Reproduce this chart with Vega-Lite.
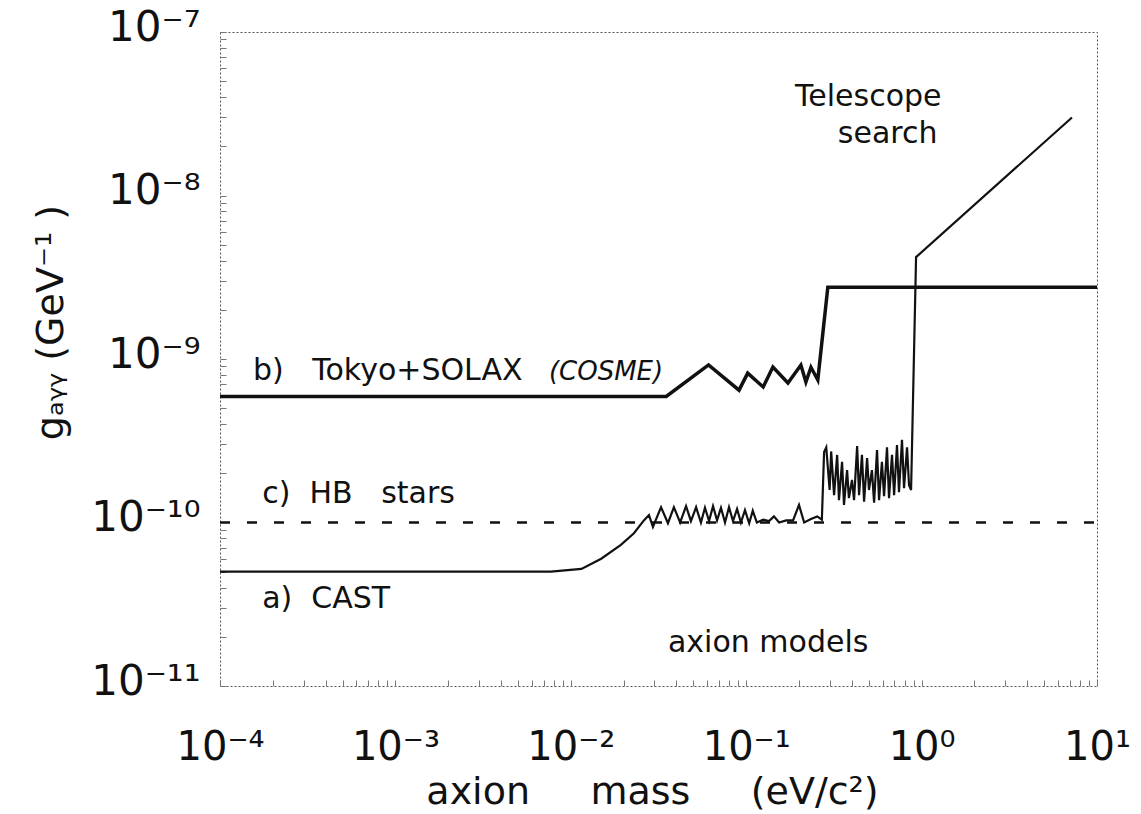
{
  "$schema": "https://vega.github.io/schema/vega-lite/v6.json",
  "width": 877,
  "height": 654,
  "autosize": {"type": "none"},
  "padding": {"left": 220, "top": 32, "right": 44, "bottom": 128},
  "background": "white",
  "config": {
    "font": "DejaVu Sans",
    "view": {"stroke": "#555", "strokeDash": [2, 2], "strokeWidth": 1}
  },
  "datasets": {
    "curves": [
      {"s": "HB", "m": 0.0001, "g": 1e-10},
      {"s": "HB", "m": 10, "g": 1e-10},
      {"s": "Tokyo", "m": 0.0001, "g": 5.9e-10},
      {"s": "Tokyo", "m": 0.035, "g": 5.9e-10},
      {"s": "Tokyo", "m": 0.061, "g": 9.2e-10},
      {"s": "Tokyo", "m": 0.091, "g": 6.45e-10},
      {"s": "Tokyo", "m": 0.102, "g": 8.2e-10},
      {"s": "Tokyo", "m": 0.125, "g": 6.74e-10},
      {"s": "Tokyo", "m": 0.142, "g": 8.93e-10},
      {"s": "Tokyo", "m": 0.173, "g": 7.13e-10},
      {"s": "Tokyo", "m": 0.205, "g": 9.18e-10},
      {"s": "Tokyo", "m": 0.219, "g": 7.23e-10},
      {"s": "Tokyo", "m": 0.234, "g": 8.9e-10},
      {"s": "Tokyo", "m": 0.256, "g": 7.44e-10},
      {"s": "Tokyo", "m": 0.292, "g": 2.75e-9},
      {"s": "Tokyo", "m": 10, "g": 2.75e-9},
      {"s": "CAST", "m": 0.0001, "g": 5.0e-11},
      {"s": "CAST", "m": 0.0077, "g": 5.0e-11},
      {"s": "CAST", "m": 0.0115, "g": 5.2e-11},
      {"s": "CAST", "m": 0.0149, "g": 6.0e-11},
      {"s": "CAST", "m": 0.0193, "g": 7.3e-11},
      {"s": "CAST", "m": 0.0229, "g": 8.6e-11},
      {"s": "CAST", "m": 0.0261, "g": 1.03e-10},
      {"s": "CAST", "m": 0.0279, "g": 1.11e-10},
      {"s": "CAST", "m": 0.0294, "g": 9.4e-11},
      {"s": "CAST", "m": 0.0327, "g": 1.24e-10},
      {"s": "CAST", "m": 0.0358, "g": 9.9e-11},
      {"s": "CAST", "m": 0.0387, "g": 1.24e-10},
      {"s": "CAST", "m": 0.042, "g": 1.0e-10},
      {"s": "CAST", "m": 0.0454, "g": 1.26e-10},
      {"s": "CAST", "m": 0.0484, "g": 1.02e-10},
      {"s": "CAST", "m": 0.0518, "g": 1.24e-10},
      {"s": "CAST", "m": 0.0552, "g": 1.0e-10},
      {"s": "CAST", "m": 0.0582, "g": 1.23e-10},
      {"s": "CAST", "m": 0.0614, "g": 1.02e-10},
      {"s": "CAST", "m": 0.0647, "g": 1.26e-10},
      {"s": "CAST", "m": 0.0682, "g": 1.03e-10},
      {"s": "CAST", "m": 0.0718, "g": 1.23e-10},
      {"s": "CAST", "m": 0.0757, "g": 1.0e-10},
      {"s": "CAST", "m": 0.0798, "g": 1.24e-10},
      {"s": "CAST", "m": 0.0841, "g": 1.02e-10},
      {"s": "CAST", "m": 0.0887, "g": 1.21e-10},
      {"s": "CAST", "m": 0.0933, "g": 1.0e-10},
      {"s": "CAST", "m": 0.0984, "g": 1.19e-10},
      {"s": "CAST", "m": 0.104, "g": 9.9e-11},
      {"s": "CAST", "m": 0.109, "g": 1.18e-10},
      {"s": "CAST", "m": 0.115, "g": 1.0e-10},
      {"s": "CAST", "m": 0.125, "g": 1.04e-10},
      {"s": "CAST", "m": 0.135, "g": 1.02e-10},
      {"s": "CAST", "m": 0.144, "g": 1.09e-10},
      {"s": "CAST", "m": 0.154, "g": 1.0e-10},
      {"s": "CAST", "m": 0.169, "g": 1.03e-10},
      {"s": "CAST", "m": 0.185, "g": 1.03e-10},
      {"s": "CAST", "m": 0.2, "g": 1.28e-10},
      {"s": "CAST", "m": 0.214, "g": 1.0e-10},
      {"s": "CAST", "m": 0.234, "g": 1.05e-10},
      {"s": "CAST", "m": 0.254, "g": 1.09e-10},
      {"s": "CAST", "m": 0.27, "g": 1.04e-10},
      {"s": "CAST", "m": 0.278, "g": 2.7e-10},
      {"s": "CAST", "m": 0.286, "g": 2.88e-10},
      {"s": "CAST", "m": 0.299, "g": 1.58e-10},
      {"s": "CAST", "m": 0.305, "g": 2.72e-10},
      {"s": "CAST", "m": 0.317, "g": 1.47e-10},
      {"s": "CAST", "m": 0.33, "g": 2.59e-10},
      {"s": "CAST", "m": 0.338, "g": 1.37e-10},
      {"s": "CAST", "m": 0.352, "g": 2.35e-10},
      {"s": "CAST", "m": 0.361, "g": 1.28e-10},
      {"s": "CAST", "m": 0.376, "g": 2.09e-10},
      {"s": "CAST", "m": 0.385, "g": 1.41e-10},
      {"s": "CAST", "m": 0.401, "g": 1.82e-10},
      {"s": "CAST", "m": 0.412, "g": 1.37e-10},
      {"s": "CAST", "m": 0.429, "g": 2.93e-10},
      {"s": "CAST", "m": 0.44, "g": 1.47e-10},
      {"s": "CAST", "m": 0.457, "g": 2.59e-10},
      {"s": "CAST", "m": 0.47, "g": 1.34e-10},
      {"s": "CAST", "m": 0.489, "g": 2.48e-10},
      {"s": "CAST", "m": 0.501, "g": 1.58e-10},
      {"s": "CAST", "m": 0.521, "g": 2.09e-10},
      {"s": "CAST", "m": 0.536, "g": 1.32e-10},
      {"s": "CAST", "m": 0.557, "g": 2.77e-10},
      {"s": "CAST", "m": 0.572, "g": 1.37e-10},
      {"s": "CAST", "m": 0.594, "g": 2.35e-10},
      {"s": "CAST", "m": 0.611, "g": 1.45e-10},
      {"s": "CAST", "m": 0.635, "g": 2.88e-10},
      {"s": "CAST", "m": 0.652, "g": 1.41e-10},
      {"s": "CAST", "m": 0.678, "g": 2.59e-10},
      {"s": "CAST", "m": 0.697, "g": 1.47e-10},
      {"s": "CAST", "m": 0.724, "g": 2.98e-10},
      {"s": "CAST", "m": 0.743, "g": 1.53e-10},
      {"s": "CAST", "m": 0.773, "g": 3.2e-10},
      {"s": "CAST", "m": 0.794, "g": 1.62e-10},
      {"s": "CAST", "m": 0.826, "g": 2.88e-10},
      {"s": "CAST", "m": 0.848, "g": 1.69e-10},
      {"s": "CAST", "m": 0.871, "g": 1.58e-10},
      {"s": "CAST", "m": 0.93, "g": 4.2e-9},
      {"s": "CAST", "m": 7.2, "g": 3.0e-8}
    ],
    "labels": [
      {"t": "b)\u00a0\u00a0\u00a0Tokyo+SOLAX", "m": 0.000154, "g": 7.45e-10},
      {"t": "c)\u00a0\u00a0HB\u00a0\u00a0\u00a0stars", "m": 0.000174, "g": 1.31e-10},
      {"t": "a)\u00a0\u00a0CAST", "m": 0.000174, "g": 3.0e-11},
      {"t": "axion models", "m": 0.0358, "g": 1.62e-11},
      {"t": "Telescope", "m": 0.19, "g": 3.52e-8},
      {"t": "search", "m": 0.333, "g": 2.09e-8}
    ],
    "notes": [
      {"t": "(COSME)", "m": 0.0075, "g": 7.45e-10}
    ]
  },
  "encoding": {
    "x": {
      "field": "m",
      "type": "quantitative",
      "scale": {"type": "log", "domain": [0.0001, 10], "nice": false},
      "axis": {
        "orient": "bottom",
        "values": [0.0001, 0.0002, 0.0003, 0.0004, 0.0005, 0.0006, 0.0007, 0.0008, 0.0009, 0.001, 0.002, 0.003, 0.004, 0.005, 0.006, 0.007, 0.008, 0.009, 0.01, 0.02, 0.03, 0.04, 0.05, 0.06, 0.07, 0.08, 0.09, 0.1, 0.2, 0.3, 0.4, 0.5, 0.6, 0.7, 0.8, 0.9, 1, 2, 3, 4, 5, 6, 7, 8, 9, 10],
        "labelExpr": "abs(log(datum.value)/LN10 - round(log(datum.value)/LN10)) > 0.01 ? '' : ['10⁻⁴','10⁻³','10⁻²','10⁻¹','10⁰','10¹'][round(log(datum.value)/LN10)+4]",
        "labelFontSize": 40,
        "labelColor": "#111",
        "labelOverlap": false,
        "labelFlush": false,
        "labelPadding": 47,
        "ticks": true,
        "tickSize": -6,
        "tickColor": "#777",
        "tickWidth": 1,
        "domain": false,
        "grid": false,
        "title": "axion\u00a0\u00a0\u00a0\u00a0\u00a0mass\u00a0\u00a0\u00a0\u00a0\u00a0(eV/c²)",
        "titleFontSize": 38,
        "titleFontWeight": "normal",
        "titleColor": "#111",
        "titleX": 432,
        "titleY": 117,
        "titleBaseline": "alphabetic",
        "titleAlign": "center"
      }
    },
    "y": {
      "field": "g",
      "type": "quantitative",
      "scale": {"type": "log", "domain": [1e-11, 1e-7], "nice": false},
      "axis": {
        "orient": "left",
        "values": [1e-11, 2e-11, 3e-11, 4e-11, 5e-11, 6e-11, 7e-11, 8e-11, 9e-11, 1e-10, 2e-10, 3e-10, 4e-10, 5e-10, 6e-10, 7e-10, 8e-10, 9e-10, 1e-9, 2e-9, 3e-9, 4e-9, 5e-9, 6e-9, 7e-9, 8e-9, 9e-9, 1e-8, 2e-8, 3e-8, 4e-8, 5e-8, 6e-8, 7e-8, 8e-8, 9e-8, 1e-7],
        "labelExpr": "abs(log(datum.value)/LN10 - round(log(datum.value)/LN10)) > 0.01 ? '' : ['10⁻¹¹','10⁻¹⁰','10⁻⁹','10⁻⁸','10⁻⁷'][round(log(datum.value)/LN10)+11]",
        "labelFontSize": 42,
        "labelColor": "#111",
        "labelOverlap": false,
        "labelFlush": false,
        "labelPadding": 26,
        "labelOffset": -5,
        "ticks": true,
        "tickSize": -6,
        "tickColor": "#777",
        "tickWidth": 1,
        "domain": false,
        "grid": false,
        "title": "gₐᵧᵧ (GeV⁻¹ )",
        "titleFontSize": 38,
        "titleFontWeight": "normal",
        "titleColor": "#111",
        "titleAngle": -90,
        "titleX": -158,
        "titleY": 290,
        "titleBaseline": "alphabetic",
        "titleAlign": "center"
      }
    }
  },
  "layer": [
    {
      "data": {"name": "curves"},
      "transform": [{"filter": "datum.s === 'HB'"}],
      "mark": {"type": "line", "color": "#111", "strokeWidth": 2.5, "strokeDash": [10, 17]}
    },
    {
      "data": {"name": "curves"},
      "transform": [{"filter": "datum.s === 'Tokyo'"}],
      "mark": {"type": "line", "color": "#111", "strokeWidth": 3.5, "strokeJoin": "miter"}
    },
    {
      "data": {"name": "curves"},
      "transform": [{"filter": "datum.s === 'CAST'"}],
      "mark": {"type": "line", "color": "#111", "strokeWidth": 2.2}
    },
    {
      "data": {"name": "labels"},
      "mark": {"type": "text", "align": "left", "baseline": "alphabetic", "fontSize": 30, "color": "#111"},
      "encoding": {"text": {"field": "t"}}
    },
    {
      "data": {"name": "notes"},
      "mark": {"type": "text", "align": "left", "baseline": "alphabetic", "fontSize": 26, "fontStyle": "italic", "color": "#111"},
      "encoding": {"text": {"field": "t"}}
    }
  ]
}
